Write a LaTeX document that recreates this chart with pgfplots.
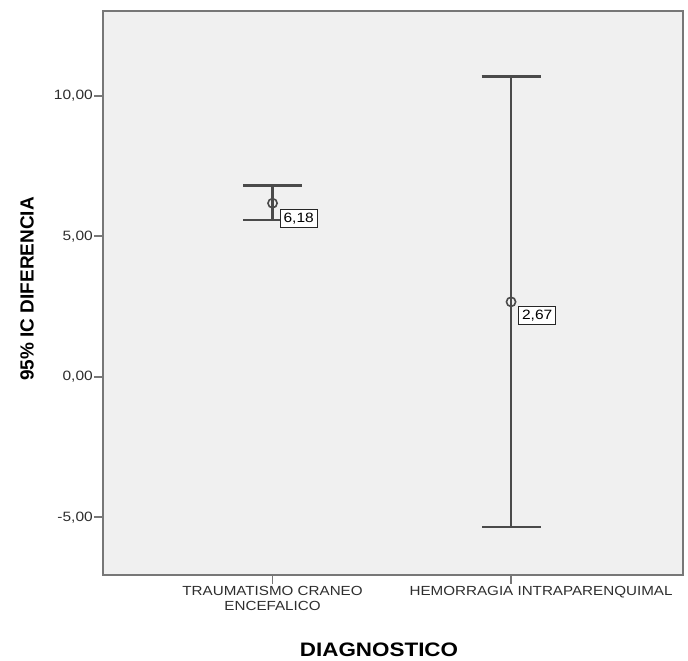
\documentclass[border=0pt]{standalone}
\usepackage{pgfplots}
\pgfplotsset{compat=1.18}
\usepackage{fontspec}
\setmainfont{Liberation Sans}[FakeStretch=1.15]
\newfontfamily\ylabfont{Liberation Sans}

\definecolor{panel}{HTML}{F0F0F0}
\definecolor{frame}{HTML}{777777}
\definecolor{bar}{HTML}{4A4A4A}
\definecolor{txt}{HTML}{2E2E2E}

\begin{document}
\begin{tikzpicture}[x=1pt,y=1pt]
\path[use as bounding box] (0,0) rectangle (688,661);
\begin{axis}[
  at={(103pt,86pt)}, anchor=south west,
  scale only axis, width=580pt, height=564pt,
  xmin=-0.711, xmax=1.721, ymin=-7.05, ymax=13.02,
  axis background/.style={fill=panel},
  axis line style={frame, line width=2.2pt},
  xtick={0,1},
  xticklabels={{TRAUMATISMO CRANEO\\ENCEFALICO},{\hspace*{60pt}HEMORRAGIA INTRAPARENQUIMAL}},
  xticklabel style={align=center, font=\fontsize{13.2}{15}\selectfont, text=txt, inner sep=2pt},
  ytick={-5,0,5,10},
  yticklabel style={font=\fontsize{13.5}{15}\selectfont, text=txt, inner sep=1pt,
    /pgf/number format/.cd, fixed, fixed zerofill, precision=2, use comma, assume math mode=true},
  tick align=outside, tick pos=left,
  major tick length=9pt,
  tick style={frame, line width=1.8pt},
  clip=false,
]
\addplot[only marks, mark=o, mark size=4.6pt,
  mark options={draw=bar, fill=panel, line width=1.6pt},
  error bars/.cd, y dir=both, y explicit,
  error bar style={bar, line width=2.2pt},
  error mark options={rotate=90, mark size=29.5pt, bar, line width=2.2pt}]
coordinates {
  (0,6.18) += (0,0.63) -= (0,0.59)
  (1,2.67) += (0,8.02) -= (0,8.00)
};
\node[draw=black!85, fill=white, line width=1.1pt, inner xsep=3.5pt, inner ysep=3.5pt,
  anchor=north west, xshift=7pt, yshift=-6pt, font=\fontsize{13.5}{15}\selectfont]
  at (axis cs:0,6.18) {6,18};
\node[draw=black!85, fill=white, line width=1.1pt, inner xsep=3.5pt, inner ysep=3.5pt,
  anchor=north west, xshift=7pt, yshift=-4pt, font=\fontsize{13.5}{15}\selectfont]
  at (axis cs:1,2.67) {2,67};
\end{axis}
\node[rotate=90, font=\ylabfont\bfseries\fontsize{19}{22}\selectfont] at (27,372) {95\% IC DIFERENCIA};
\node[font=\bfseries\fontsize{19.5}{22}\selectfont] at (379,11) {DIAGNOSTICO};
\end{tikzpicture}
\end{document}
